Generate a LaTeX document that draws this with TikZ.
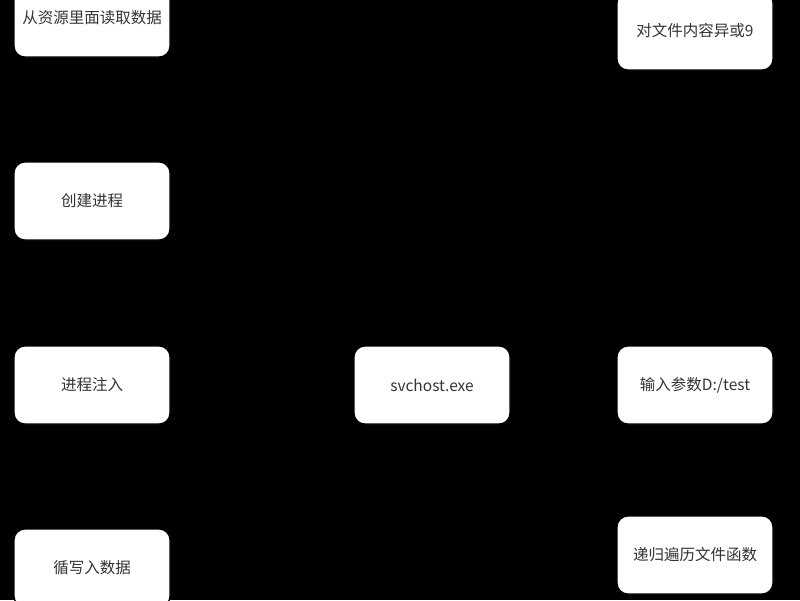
\documentclass[tikz,border=0pt]{standalone}
\usepackage{fontspec}
\setmainfont{Noto Sans CJK SC}
\usepackage{tikz}

\begin{document}
\begin{tikzpicture}[x=1pt, y=-1pt, main/.style={draw=black, fill=white, rounded corners=11pt, line width=1.2pt, minimum width=156pt, minimum height=78pt, inner sep=0pt, text=black!80, font=\fontsize{15.5}{18}\selectfont}]
            % background
            \fill[black] (0,0) rectangle (800,600);
            \useasboundingbox (0,0) rectangle (800,600);
            % nodes
            \node[main] (read) at (92,18) {从资源里面读取数据};
            \node[main] (create) at (92,201) {创建进程};
            \node[main] (inject) at (92,385) {进程注入};
            \node[main] (write) at (92,568) {循写入数据};
            \node[main] (svchost) at (432,385) {svchost.exe};
            \node[main] (xor) at (695,31) {对文件内容异或9};
            \node[main] (param) at (695,385) {输入参数D:/test};
            \node[main] (walk) at (695,555) {递归遍历文件函数};
        \end{tikzpicture}
\end{document}
